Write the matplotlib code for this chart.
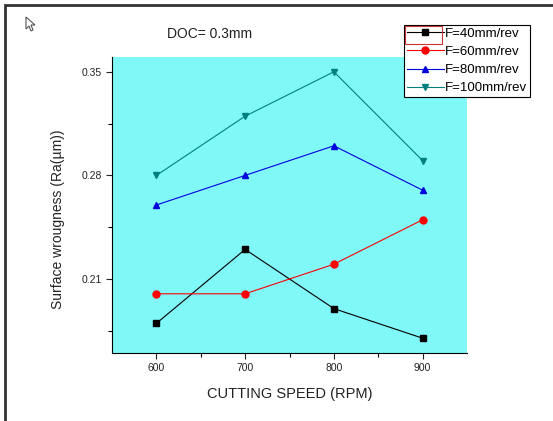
import matplotlib
matplotlib.use("Agg")
import matplotlib.pyplot as plt
from matplotlib.patches import Rectangle, Polygon

speeds = [600, 700, 800, 900]
f40 = [0.18, 0.23, 0.19, 0.17]
f60 = [0.20, 0.20, 0.22, 0.25]
f80 = [0.26, 0.28, 0.30, 0.27]
f100 = [0.28, 0.32, 0.35, 0.29]
labels = ["F=40mm/rev", "F=60mm/rev", "F=80mm/rev", "F=100mm/rev"]
xticks = [600, 700, 800, 900]
yticks = [0.21, 0.28, 0.35]

plt.rcParams['font.family'] = ['Liberation Sans', 'DejaVu Sans']

W, H = 553, 421
fig = plt.figure(figsize=(W / 100, H / 100), dpi=100)
fig.patches.append(Rectangle((5 / W, -0.1), 1.2, 1 - 5 / H + 0.1, transform=fig.transFigure,
                             fill=False, edgecolor='#333333', linewidth=2))
# mouse cursor glyph in the top-left corner
cur = [(26, 17), (26, 29), (29, 26), (31, 31), (33, 30), (31, 25), (35, 25)]
fig.patches.append(Polygon([(x / W, 1 - y / H) for x, y in cur], closed=True, transform=fig.transFigure,
                           facecolor='white', edgecolor='#555555', linewidth=0.8))

ax = fig.add_axes([112 / W, 1 - 353 / H, 355 / W, 296 / H])
ax.set_facecolor('#80f8f8')

series = [f40, f60, f80, f100]
colors = ['black', 'red', '#0000dd', '#008080']
markers = ['s', 'o', '^', 'v']
for vals, c, m, lab in zip(series, colors, markers, labels):
    ax.plot(speeds, vals, color=c, marker=m, markersize=5, linewidth=0.8, label=lab)

ax.set_xlim(550, 950)
ax.set_ylim(0.16, 0.36)
ax.set_xticks(xticks)
ax.set_xticklabels([str(v) for v in xticks])
ax.set_xticks([650, 750, 850], minor=True)
ax.set_yticks(yticks)
ax.set_yticklabels([f"{v:.2f}" for v in yticks])
ax.set_yticks([0.175, 0.245, 0.315], minor=True)
ax.tick_params(axis='both', which='major', direction='out', length=4, width=0.8, labelsize=7.5, colors='#222222')
ax.tick_params(axis='both', which='minor', direction='out', length=3, width=0.8)
for s in ['top', 'right']:
    ax.spines[s].set_visible(False)
for s in ['left', 'bottom']:
    ax.spines[s].set_linewidth(0.8)

ax.set_xlabel("CUTTING SPEED (RPM)", fontsize=10.5, color='#222222', labelpad=10)
ax.set_ylabel("Surface wrougness (Ra(\u00b5m))", fontsize=10, color='#222222')
ax.yaxis.set_label_coords((65 - 112) / 355, (353 - 219) / 296)

fig.text(210 / W, 1 - 34 / H, "DOC= 0.3mm", fontsize=10, ha='center', va='center', color='#222222')

leg = ax.legend(loc='upper left', bbox_to_anchor=(404 / W, 1 - 25 / H), bbox_transform=fig.transFigure,
                fontsize=9.5, frameon=True, fancybox=False, edgecolor='black', framealpha=1,
                borderpad=0.2, labelspacing=0.45, handlelength=2.8, handletextpad=0.1, borderaxespad=0)
leg.get_frame().set_linewidth(0.8)

fig.patches.append(Rectangle((405 / W, 1 - 44 / H), 37 / W, 18 / H, transform=fig.transFigure,
                             fill=False, edgecolor='#cc3333', linewidth=0.8, zorder=10))

fig.savefig("out.png", dpi=100)
